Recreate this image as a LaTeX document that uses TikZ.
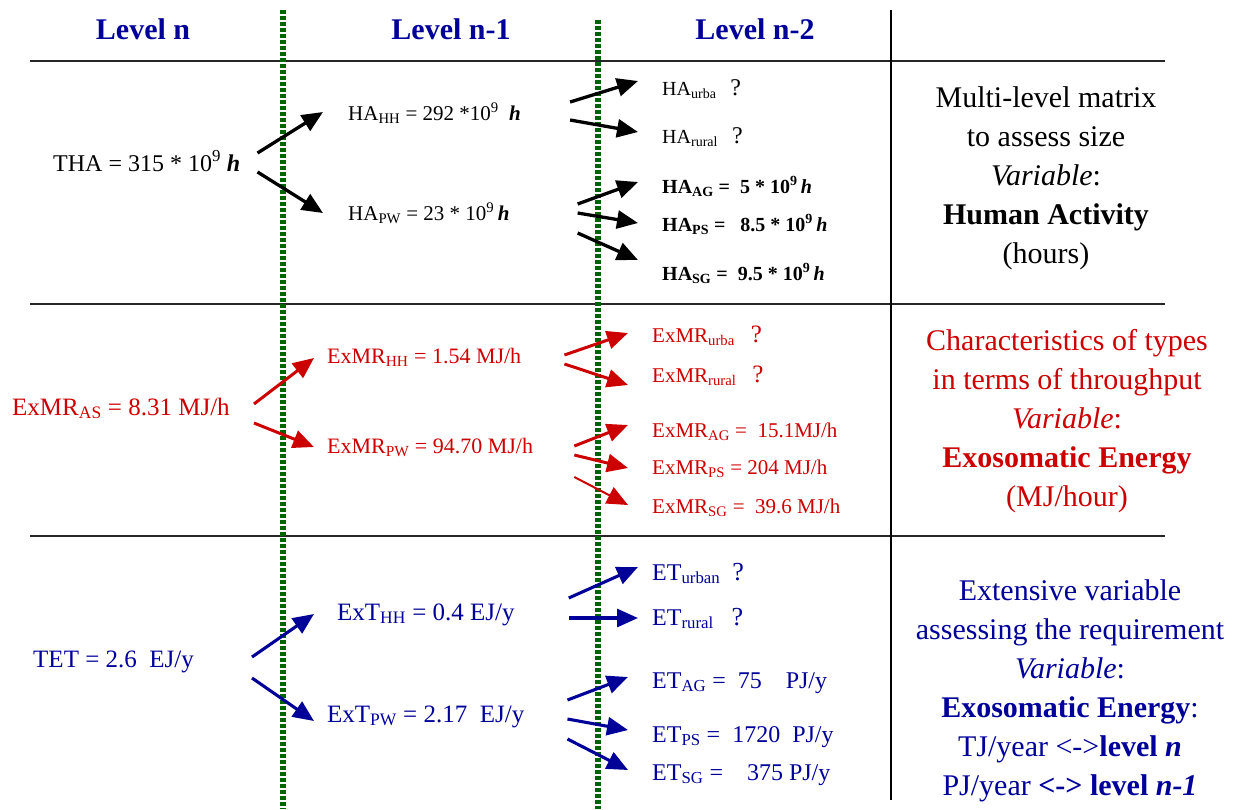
\documentclass[tikz,border=0pt]{standalone}
\usepackage{fontspec}
\setmainfont{Liberation Serif}
\usepackage{tikz}
\definecolor{headblue}{RGB}{0, 0, 153}
\definecolor{energyred}{RGB}{204, 0, 0}
\definecolor{dotgreen}{RGB}{0, 100, 0}
\usetikzlibrary{arrows.meta}

\tikzset{
    rowline/.style={draw=black!85, line width=2.2pt},
    levelsep/.style={draw=dotgreen, line width=5.5pt, dash pattern=on 4pt off 2pt},
    lvlhead/.style={anchor=base, inner sep=0pt, text=headblue,
        font=\fontsize{30}{36}\selectfont\bfseries},
    val/.style={anchor=base west, inner sep=0pt},
    note/.style={align=center, inner sep=0pt, font=\fontsize{30}{39}\selectfont},
    flowk/.style={draw=black, line width=3.3pt, -{Triangle[length=21pt,width=18pt]}},
    flowr/.style={draw=energyred, line width=3pt, -{Triangle[length=21pt,width=18pt]}},
    flowb/.style={draw=headblue, line width=3.1pt, -{Triangle[length=21pt,width=18pt]}}
}

\begin{document}
\begin{tikzpicture}[x=1pt, y=-1pt]
    \useasboundingbox (0,0) rectangle (1247,809);

    % grid lines
    \foreach \yy in {61,304,536}
        \draw[rowline] (30,\yy) -- (1165,\yy);
    \draw[black, line width=1.6pt] (891,10) -- (891,800);
    \draw[levelsep] (283,10) -- (283,809);
    \draw[levelsep] (598,20) -- (598,809);

    % headers
    \node[lvlhead] (hdn)  at (143,39) {Level n};
    \node[lvlhead] (hdn1) at (451,39) {Level n-1};
    \node[lvlhead] (hdn2) at (755,39) {Level n-2};

    % human activity
    \node[val, font=\fontsize{24}{28}\selectfont] (tha) at (53,171)
        {THA = 315 * 10\textsuperscript{9} \textbf{\textit{h}}};
    \node[val, font=\fontsize{21}{25}\selectfont] (hahh) at (348,120)
        {HA\textsubscript{HH} = 292 *10\textsuperscript{9}~ \textbf{\textit{h}}};
    \node[val, font=\fontsize{21}{25}\selectfont] (hapw) at (348,220)
        {HA\textsubscript{PW} = 23 * 10\textsuperscript{9}\,\textbf{\textit{h}}};
    \node[val, font=\fontsize{20}{24}\selectfont] (haurb) at (662,95)
        {HA\textsubscript{urba}\hspace{14pt}{\fontsize{24}{28}\selectfont ?}};
    \node[val, font=\fontsize{20}{24}\selectfont] (harur) at (662,143)
        {HA\textsubscript{rural}\hspace{14pt}{\fontsize{24}{28}\selectfont ?}};
    \node[val, font=\fontsize{20}{24}\selectfont\bfseries] (haag) at (662,193)
        {HA\textsubscript{AG} =~~5 * 10\textsuperscript{9}\,\textit{h}};
    \node[val, font=\fontsize{20}{24}\selectfont\bfseries] (haps) at (662,231)
        {HA\textsubscript{PS} =~~~8.5 * 10\textsuperscript{9}\,\textit{h}};
    \node[val, font=\fontsize{20}{24}\selectfont\bfseries] (hasg) at (662,280)
        {HA\textsubscript{SG} =~~9.5 * 10\textsuperscript{9}\,\textit{h}};
    \node[note, text=black] (notek) at (1046,178)
        {Multi-level matrix\\to assess size\\\textit{Variable}:\\\textbf{Human Activity}\\(hours)};

    \draw[flowk] ([shift={(17,-18)}]tha.base east) -- ([shift={(-25,-8)}]hahh.base west);
    \draw[flowk] ([shift={(17,1)}]tha.base east) -- ([shift={(-25,-7)}]hapw.base west);
    \draw[flowk] ([shift={(49,-18)}]hahh.base east) -- ([shift={(-24,-14)}]haurb.base west);
    \draw[flowk] ([shift={(49,0)}]hahh.base east) -- ([shift={(-24,-11)}]harur.base west);
    \draw[flowk] ([shift={(68,-16)}]hapw.base east) -- ([shift={(-24,-11)}]haag.base west);
    \draw[flowk] ([shift={(68,-7)}]hapw.base east) -- ([shift={(-24,-8)}]haps.base west);
    \draw[flowk] ([shift={(68,13)}]hapw.base east) -- ([shift={(-24,-20)}]hasg.base west);

    % exosomatic metabolic rate
    \node[val, text=energyred, font=\fontsize{25}{29}\selectfont] (exas) at (12,415)
        {ExMR\textsubscript{AS} = 8.31 MJ/h};
    \node[val, text=energyred, font=\fontsize{22}{26}\selectfont] (exhh) at (327,363)
        {ExMR\textsubscript{HH} = 1.54 MJ/h};
    \node[val, text=energyred, font=\fontsize{22}{26}\selectfont] (expw) at (327,453)
        {ExMR\textsubscript{PW} = 94.70 MJ/h};
    \node[val, text=energyred, font=\fontsize{21}{25}\selectfont] (exurb) at (652,342)
        {ExMR\textsubscript{urba}\hspace{16pt}{\fontsize{25}{29}\selectfont ?}};
    \node[val, text=energyred, font=\fontsize{21}{25}\selectfont] (exrur) at (652,382)
        {ExMR\textsubscript{rural}\hspace{16pt}{\fontsize{25}{29}\selectfont ?}};
    \node[val, text=energyred, font=\fontsize{21}{25}\selectfont] (exag) at (652,437)
        {ExMR\textsubscript{AG} =~~15.1MJ/h};
    \node[val, text=energyred, font=\fontsize{21}{25}\selectfont] (exps) at (652,474)
        {ExMR\textsubscript{PS} = 204 MJ/h};
    \node[val, text=energyred, font=\fontsize{21}{25}\selectfont] (exsg) at (652,513)
        {ExMR\textsubscript{SG} =~~39.6 MJ/h};
    \node[note, text=energyred] (noter) at (1067,421)
        {Characteristics of types\\in terms of throughput\\\textit{Variable}:\\\textbf{Exosomatic Energy}\\(MJ/hour)};

    \draw[flowr] ([shift={(24,-11)}]exas.base east) -- ([shift={(-13,-5)}]exhh.base west);
    \draw[flowr] ([shift={(24,8)}]exas.base east) -- ([shift={(-13,-6)}]expw.base west);
    \draw[flowr] ([shift={(43,-8)}]exhh.base east) -- ([shift={(-24,-9)}]exurb.base west);
    \draw[flowr] ([shift={(43,1)}]exhh.base east) -- ([shift={(-24,3)}]exrur.base west);
    \draw[flowr] ([shift={(41,-7)}]expw.base east) -- ([shift={(-24,-12)}]exag.base west);
    \draw[flowr] ([shift={(41,2)}]expw.base east) -- ([shift={(-24,-6)}]exps.base west);
    \draw[flowr, line width=2pt] ([shift={(41,24)}]expw.base east) -- ([shift={(-24,-8)}]exsg.base west);

    % exosomatic throughput
    \node[val, text=headblue, font=\fontsize{25}{29}\selectfont] (tet) at (33,667)
        {TET = 2.6~ EJ/y};
    \node[val, text=headblue, font=\fontsize{25}{29}\selectfont] (ethh) at (337,620)
        {ExT\textsubscript{HH} = 0.4 EJ/y};
    \node[val, text=headblue, font=\fontsize{25}{29}\selectfont] (etpw) at (327,722)
        {ExT\textsubscript{PW} = 2.17~ EJ/y};
    \node[val, text=headblue, font=\fontsize{24}{28}\selectfont] (eturb) at (652,580)
        {ET\textsubscript{urban}\hspace{12pt}{\fontsize{26}{30}\selectfont ?}};
    \node[val, text=headblue, font=\fontsize{24}{28}\selectfont] (etrur) at (652,625)
        {ET\textsubscript{rural}\hspace{18pt}{\fontsize{26}{30}\selectfont ?}};
    \node[val, text=headblue, font=\fontsize{24}{28}\selectfont] (etag) at (652,688)
        {ET\textsubscript{AG} =~~75~~~~PJ/y};
    \node[val, text=headblue, font=\fontsize{24}{28}\selectfont] (etps) at (652,742)
        {ET\textsubscript{PS} =~~1720~~PJ/y};
    \node[val, text=headblue, font=\fontsize{24}{28}\selectfont] (etsg) at (652,780)
        {ET\textsubscript{SG} =~~~~375 PJ/y};
    \node[note, text=headblue] (noteb) at (1070,691)
        {Extensive variable\\assessing the requirement\\\textit{Variable}:\\\textbf{Exosomatic Energy}:\\TJ/year <->\textbf{level \textit{n}}\\PJ/year \textbf{<-> level \textit{n-1}}};

    \draw[flowb] ([shift={(58,-10)}]tet.base east) -- ([shift={(-23,-6)}]ethh.base west);
    \draw[flowb] ([shift={(58,11)}]tet.base east) -- ([shift={(-13,-1)}]etpw.base west);
    \draw[flowb] ([shift={(54,-22)}]ethh.base east) -- ([shift={(-14,-13)}]eturb.base west);
    \draw[flowb] ([shift={(54,-2)}]ethh.base east) -- ([shift={(-14,-7)}]etrur.base west);
    \draw[flowb] ([shift={(43,-22)}]etpw.base east) -- ([shift={(-24,-11)}]etag.base west);
    \draw[flowb] ([shift={(43,-3)}]etpw.base east) -- ([shift={(-24,-12)}]etps.base west);
    \draw[flowb] ([shift={(43,17)}]etpw.base east) -- ([shift={(-24,-10)}]etsg.base west);
\end{tikzpicture}
\end{document}
